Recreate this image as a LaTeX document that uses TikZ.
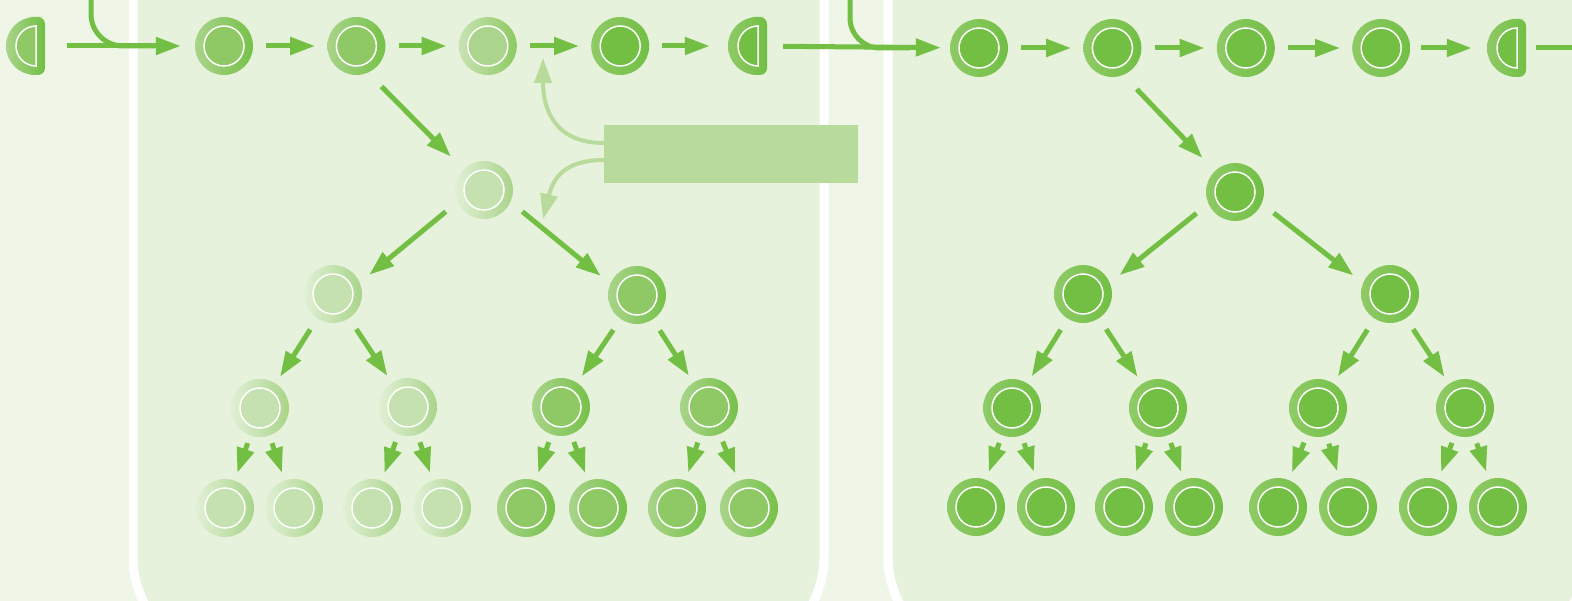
\documentclass[tikz,border=0pt]{standalone}
\usepackage{tikz}
\usepackage{xcolor}
\usetikzlibrary{
    arrows.meta,
    positioning
}
\definecolor{flowgreen}{HTML}{72BF44}
\definecolor{notegreen}{HTML}{B8DB9C}
\definecolor{panelgreen}{HTML}{E6F2DC}
\definecolor{outergreen}{HTML}{EFF6E8}
\definecolor{fullL}{HTML}{8FCA66}
\definecolor{fullR}{HTML}{72BF44}
\definecolor{fullgreen}{HTML}{72BF44}
\definecolor{midL}{HTML}{A9D48A}
\definecolor{midR}{HTML}{76C149}
\definecolor{midgreen}{HTML}{8FC965}
\definecolor{paleL}{HTML}{C8E3B3}
\definecolor{paleR}{HTML}{8DCA62}
\definecolor{palegreen}{HTML}{ABD58D}
\definecolor{lightL}{HTML}{E1F0D5}
\definecolor{lightR}{HTML}{A9D48A}
\definecolor{lightgreen}{HTML}{C5E1AF}

% half-round gate: name, x, y (centre of the arc), ring left colour, inner colour
\newcommand{\gatenode}[5]{%
    \shade[left color=#4, right color=fullR]
        (#2,#3) ++(0,-29) arc[start angle=-90, end angle=-270, radius=29]
        -- ++(2,0) [rounded corners=7pt] -- ++(8,0) -- ++(0,-58) -- ++(-8,0) [sharp corners] -- cycle;
    \filldraw[fill=#5, draw=white, line width=1.5pt]
        (#2+1,#3) ++(0,-20) arc[start angle=-90, end angle=-270, radius=20] -- cycle;
    \node[gatebox] (#1) at (#2-9.5,#3) {};
}

\begin{document}
\begin{tikzpicture}[
        x=1pt, y=-1pt,
        ring/.style n args={3}{circle, inner sep=0pt, minimum size=58pt, left color=#1, right color=#2,
            path picture={\filldraw[fill=#3, draw=white, line width=1.5pt] (path picture bounding box.center) circle[radius=20pt];}},
        fullring/.style={ring={fullL}{fullR}{fullgreen}},
        midring/.style={ring={midL}{midR}{midgreen}},
        palering/.style={ring={paleL}{paleR}{palegreen}},
        lightring/.style={ring={lightL}{lightR}{lightgreen}},
        gatebox/.style={rectangle, inner sep=0pt, minimum width=39pt, minimum height=58pt},
        note/.style={rectangle, fill=notegreen, inner sep=0pt, minimum width=254pt, minimum height=58pt},
        panel/.style={fill=panelgreen, draw=white, line width=9pt, rounded corners=100pt},
        link/.style={flowgreen, line width=5pt},
        flow/.style={link, -{Triangle[length=25pt, width=17pt]}},
        hop/.style={flow, shorten <=13pt, shorten >=12pt},
        drop/.style={flow, shorten <=57pt, shorten >=47pt},
        split/.style={flow, shorten <=34pt, shorten >=30pt},
        branch/.style={flow, shorten <=13pt, shorten >=8pt},
        leaf/.style={flow, shorten <=8pt, shorten >=8pt},
        feed/.style={notegreen, line width=4pt, -{Triangle[length=25pt, width=17pt]}}
    ]
        \useasboundingbox (0,0) rectangle (1572,601);
        \clip (0,0) rectangle (1572,601);
        \fill[outergreen] (0,0) rectangle (1572,601);

        % Panels
        \draw[panel] (133,-200) rectangle (824,657);
        \draw[panel] (888,-200) rectangle (1585,657);

        % Top row, left panel
        \gatenode{g1}{35}{46}{midL}{midgreen}
        \node[midring] (a1) at (224,46) {};
        \node[midring, right=74pt of a1] (a2) {};
        \node[palering, right=73pt of a2] (a3) {};
        \node[fullring, right=74pt of a3] (a4) {};
        \gatenode{g2}{757}{46}{fullL}{fullgreen}

        % Top row, right panel
        \node[fullring] (b1) at (979,48) {};
        \node[fullring, right=75pt of b1] (b2) {};
        \node[fullring, right=75pt of b2] (b3) {};
        \node[fullring, right=77pt of b3] (b4) {};
        \gatenode{g3}{1516}{48}{fullL}{fullgreen}

        % Feeds from above and the way out
        \coordinate (top1) at (91,-10);
        \coordinate (top2) at (850,-10);
        \coordinate (out3) at (1600,48);

        % Note box
        \node[note] (note) at (731,154) {};
        \coordinate (fbA) at (543,58);
        \coordinate (fbB) at (543,219);

        % Tree, left panel
        \node[lightring] (lm) at (484,190) {};
        \node[lightring] (ln1) at (333,294) {};
        \node[midring] (ln2) at (637,295) {};
        \node[lightring] (ls1) at (260,408) {};
        \node[lightring] (ls2) at (408,407) {};
        \node[midring] (ls3) at (561,407) {};
        \node[midring] (ls4) at (709,407) {};
        \node[lightring] (lf1) at (225,508) {};
        \node[lightring] (lf2) at (294,508) {};
        \node[lightring] (lf3) at (372,508) {};
        \node[lightring] (lf4) at (442,508) {};
        \node[midring] (lf5) at (526,508) {};
        \node[midring] (lf6) at (598,508) {};
        \node[midring] (lf7) at (677,508) {};
        \node[midring] (lf8) at (749,508) {};

        % Tree, right panel
        \node[fullring] (rm) at (1235,192) {};
        \node[fullring] (rn1) at (1083,294) {};
        \node[fullring] (rn2) at (1390,294) {};
        \node[fullring] (rs1) at (1012,408) {};
        \node[fullring] (rs2) at (1158,408) {};
        \node[fullring] (rs3) at (1318,408) {};
        \node[fullring] (rs4) at (1465,408) {};
        \node[fullring] (rf1) at (976,507) {};
        \node[fullring] (rf2) at (1046,507) {};
        \node[fullring] (rf3) at (1124,507) {};
        \node[fullring] (rf4) at (1194,507) {};
        \node[fullring] (rf5) at (1278,507) {};
        \node[fullring] (rf6) at (1348,507) {};
        \node[fullring] (rf7) at (1428,507) {};
        \node[fullring] (rf8) at (1498,507) {};

        % Arrows, top rows
        \draw[link, rounded corners=32pt] (top1) |- ([xshift=-40pt]a1.west);
        \draw[link, rounded corners=30pt] (top2) |- ([xshift=-40pt]b1.west);
        \draw[flow, shorten <=22pt, shorten >=14pt] (g1) -- (a1);
        \draw[hop] (a1) -- (a2);
        \draw[hop] (a2) -- (a3);
        \draw[hop] (a3) -- (a4);
        \draw[flow, shorten <=13pt, shorten >=18pt] (a4) -- (g2);
        \draw[flow, shorten <=16pt, shorten >=9pt] (g2) -- (b1);
        \draw[hop] (b1) -- (b2);
        \draw[hop] (b2) -- (b3);
        \draw[hop] (b3) -- (b4);
        \draw[flow, shorten <=11pt, shorten >=15pt] (b4) -- (g3);
        \draw[link, shorten <=10pt] (g3) -- (out3);

        % Arrows, left tree
        \draw[drop] ([xshift=-15pt]a2.center) -- (lm.center);
        \draw[split] ([xshift=-12pt]lm.center) -- ([xshift=13pt]ln1.center);
        \draw[split] ([xshift=12pt]lm.center) -- ([xshift=-13pt]ln2.center);
        \draw[branch] (ln1) -- (ls1); \draw[branch] (ln1) -- (ls2);
        \draw[branch] (ln2) -- (ls3); \draw[branch] (ln2) -- (ls4);
        \draw[leaf] (ls1) -- (lf1); \draw[leaf] (ls1) -- (lf2);
        \draw[leaf] (ls2) -- (lf3); \draw[leaf] (ls2) -- (lf4);
        \draw[leaf] (ls3) -- (lf5); \draw[leaf] (ls3) -- (lf6);
        \draw[leaf] (ls4) -- (lf7); \draw[leaf] (ls4) -- (lf8);

        % Arrows, right tree
        \draw[drop] ([xshift=-15pt]b2.center) -- (rm.center);
        \draw[split] ([xshift=-12pt]rm.center) -- ([xshift=13pt]rn1.center);
        \draw[split] ([xshift=12pt]rm.center) -- ([xshift=-13pt]rn2.center);
        \draw[branch] (rn1) -- (rs1); \draw[branch] (rn1) -- (rs2);
        \draw[branch] (rn2) -- (rs3); \draw[branch] (rn2) -- (rs4);
        \draw[leaf] (rs1) -- (rf1); \draw[leaf] (rs1) -- (rf2);
        \draw[leaf] (rs2) -- (rf3); \draw[leaf] (rs2) -- (rf4);
        \draw[leaf] (rs3) -- (rf5); \draw[leaf] (rs3) -- (rf6);
        \draw[leaf] (rs4) -- (rf7); \draw[leaf] (rs4) -- (rf8);

        % Feedback from the note
        \draw[feed] ([yshift=11pt]note.west) .. controls +(-50,0) and +(0,50) .. (fbA);
        \draw[feed] ([yshift=-6pt]note.west) .. controls +(-40,0) and +(10,-40) .. (fbB);

    \end{tikzpicture}
\end{document}
